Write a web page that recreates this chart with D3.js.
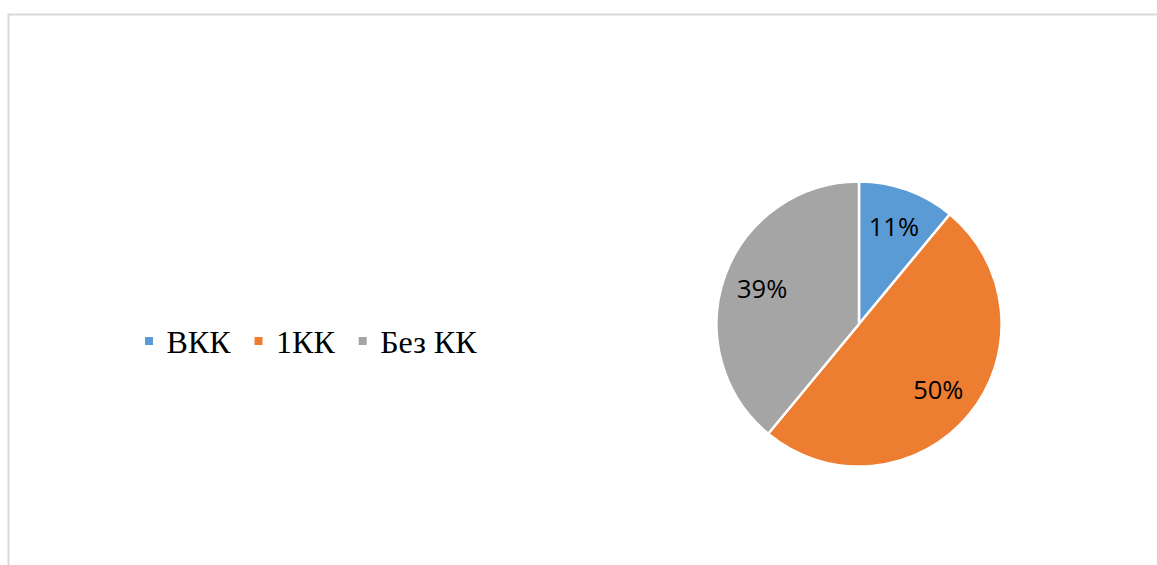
<!DOCTYPE html>
<html>
<head>
<meta charset="utf-8">
<script src="https://cdn.jsdelivr.net/npm/d3@7"></script>
<style>
  body { margin: 0; background: #fff; }
  svg { display: block; }
</style>
</head>
<body>
<div id="chart"></div>
<script>
// data
var categories = ["ВКК", "1КК", "Без КК"];
var values = [11, 50, 39];
var colors = ["#5b9bd5", "#ed7d31", "#a5a5a5"];

var width = 1157, height = 565;

var svg = d3.select("#chart")
  .append("svg")
  .attr("width", width)
  .attr("height", height);

// chart area frame (only top and left edges are visible)
svg.append("path")
  .attr("d", "M8.5 " + height + " L8.5 14.5 L" + width + " 14.5")
  .attr("fill", "none")
  .attr("stroke", "#d9d9d9")
  .attr("stroke-width", 2);

var cx = 859, cy = 324, r = 142.5;

var pie = d3.pie().sort(null).value(d => d);
var arcs = pie(values);

var arc = d3.arc().innerRadius(0).outerRadius(r);
var labelArc = d3.arc().innerRadius(r * 0.445).outerRadius(r * 1.0);

var g = svg.append("g")
  .attr("transform", "translate(" + cx + "," + cy + ")");

g.selectAll(".slice")
  .data(arcs)
  .enter()
  .append("path")
  .attr("class", "slice")
  .attr("d", arc)
  .attr("fill", (d, i) => colors[i])
  .attr("stroke", "#fff")
  .attr("stroke-width", 2.5)
  .attr("stroke-linejoin", "round");

var total = d3.sum(values);
g.selectAll(".label")
  .data(arcs)
  .enter()
  .append("text")
  .attr("class", "label")
  .attr("transform", d => "translate(" + labelArc.centroid(d) + ")")
  .attr("text-anchor", "middle")
  .attr("dy", "0.36em")
  .attr("font-family", "'Open Sans', sans-serif")
  .attr("font-size", 25.5)
  .attr("fill", "#000")
  .text(d => Math.round(d.value / total * 100) + "%");

// legend
var legend = svg.append("g")
  .attr("transform", "translate(145, 353)");

var lx = 0;
categories.forEach(function(c, i) {
  var item = legend.append("g").attr("transform", "translate(" + lx + ",0)");
  item.append("rect")
    .attr("x", 0)
    .attr("y", -16)
    .attr("width", 8)
    .attr("height", 8)
    .attr("fill", colors[i]);
  var t = item.append("text")
    .attr("x", 21.5)
    .attr("y", 0)
    .attr("font-family", "'Liberation Serif', 'Times New Roman', serif")
    .attr("font-size", 32)
    .attr("fill", "#000")
    .text(c);
  lx += 21.5 + t.node().getComputedTextLength() + 24;
});
</script>
</body>
</html>
